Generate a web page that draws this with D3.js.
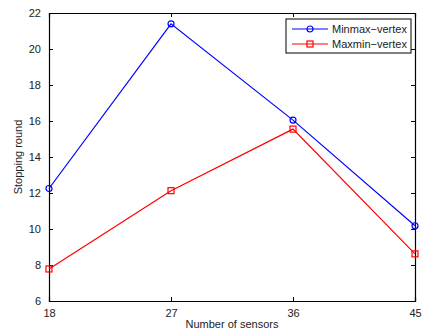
<!DOCTYPE html>
<html>
<head>
<meta charset="utf-8">
<script src="https://cdn.jsdelivr.net/npm/d3@7"></script>
<style>
  body { margin: 0; background: #fff; }
  text { font-family: "Liberation Sans", Arial, sans-serif; fill: #222; }
</style>
</head>
<body>
<div id="chart"></div>
<script>
const sensors = [18, 27, 36, 45];
const minmaxVertex = [12.25, 21.4, 16.05, 10.18];
const maxminVertex = [7.78, 12.13, 15.55, 8.62];
const yTicks = [6, 8, 10, 12, 14, 16, 18, 20, 22];
const seriesNames = ["Minmax\u2212vertex", "Maxmin\u2212vertex"];

let margin = {top: 13, right: 7, bottom: 30, left: 49},
    width = 422 - margin.left - margin.right,
    height = 331 - margin.top - margin.bottom;

let x = d3.scaleLinear().domain([18, 45]).range([0, width]);
let y = d3.scaleLinear().domain([6, 22]).range([height, 0]);

let svg = d3.select('#chart').append('svg')
  .attr('width', 422)
  .attr('height', 331)
  .append('g')
  .attr('transform', 'translate(' + margin.left + ',' + margin.top + ')');

// axes, MATLAB style: ticks inward, box on
let xAxis = d3.axisBottom(x).tickValues(sensors).tickSize(-4).tickPadding(8);
let yAxis = d3.axisLeft(y).tickValues(yTicks).tickSize(-4).tickPadding(8);

let gx = svg.append('g')
  .attr('transform', 'translate(0,' + height + ')')
  .call(xAxis);
let gy = svg.append('g').call(yAxis);

svg.append('g')
  .call(d3.axisTop(x).tickValues(sensors).tickSize(-4).tickFormat(''));
svg.append('g')
  .attr('transform', 'translate(' + width + ',0)')
  .call(d3.axisRight(y).tickValues(yTicks).tickSize(-4).tickFormat(''));

svg.selectAll('.domain').attr('stroke', '#000').attr('stroke-width', 1.2);
svg.selectAll('.tick line').attr('stroke', '#000');
svg.selectAll('.tick text').style('font-size', '11px').attr('fill', '#222');
gy.selectAll('.tick text').attr('dy', '0.35em');

// axis labels
svg.append('text')
  .attr('x', width / 2)
  .attr('y', height + 27)
  .attr('text-anchor', 'middle')
  .style('font-size', '11px')
  .text('Number of sensors');

svg.append('text')
  .attr('transform', 'rotate(-90)')
  .attr('x', -height / 2)
  .attr('y', -27)
  .attr('text-anchor', 'middle')
  .style('font-size', '11px')
  .text('Stopping round');

let line = d3.line()
  .x(function(d, i) { return x(sensors[i]); })
  .y(function(d) { return y(d); });

// Minmax-vertex (blue, circles)
svg.append('path')
  .datum(minmaxVertex)
  .attr('fill', 'none')
  .attr('stroke', '#0000ff')
  .attr('stroke-width', 1.2)
  .attr('d', line);

svg.selectAll('.minmax')
  .data(minmaxVertex)
  .enter().append('circle')
  .attr('cx', function(d, i) { return x(sensors[i]); })
  .attr('cy', function(d) { return y(d); })
  .attr('r', 3)
  .attr('fill', 'none')
  .attr('stroke', '#0000ff')
  .attr('stroke-width', 1.2);

// Maxmin-vertex (red, squares)
svg.append('path')
  .datum(maxminVertex)
  .attr('fill', 'none')
  .attr('stroke', '#ff0000')
  .attr('stroke-width', 1.2)
  .attr('d', line);

svg.selectAll('.maxmin')
  .data(maxminVertex)
  .enter().append('rect')
  .attr('x', function(d, i) { return x(sensors[i]) - 3; })
  .attr('y', function(d) { return y(d) - 3; })
  .attr('width', 6)
  .attr('height', 6)
  .attr('fill', 'none')
  .attr('stroke', '#ff0000')
  .attr('stroke-width', 1.2);

// legend
let legend = svg.append('g').attr('transform', 'translate(237,6)');
legend.append('rect')
  .attr('width', 125).attr('height', 34)
  .attr('fill', '#fff').attr('stroke', '#000').attr('stroke-width', 1);

let colors = ['#0000ff', '#ff0000'];
seriesNames.forEach(function(name, i) {
  let row = legend.append('g').attr('transform', 'translate(0,' + (10 + i * 15) + ')');
  row.append('line')
    .attr('x1', 6).attr('x2', 42)
    .attr('stroke', colors[i]).attr('stroke-width', 1.2);
  if (i === 0) {
    row.append('circle').attr('cx', 24).attr('r', 3)
      .attr('fill', 'none').attr('stroke', colors[i]).attr('stroke-width', 1.2);
  } else {
    row.append('rect').attr('x', 21).attr('y', -3).attr('width', 6).attr('height', 6)
      .attr('fill', 'none').attr('stroke', colors[i]).attr('stroke-width', 1.2);
  }
  row.append('text')
    .attr('x', 46).attr('dy', '0.35em')
    .style('font-size', '11px')
    .text(name);
});
</script>
</body>
</html>
